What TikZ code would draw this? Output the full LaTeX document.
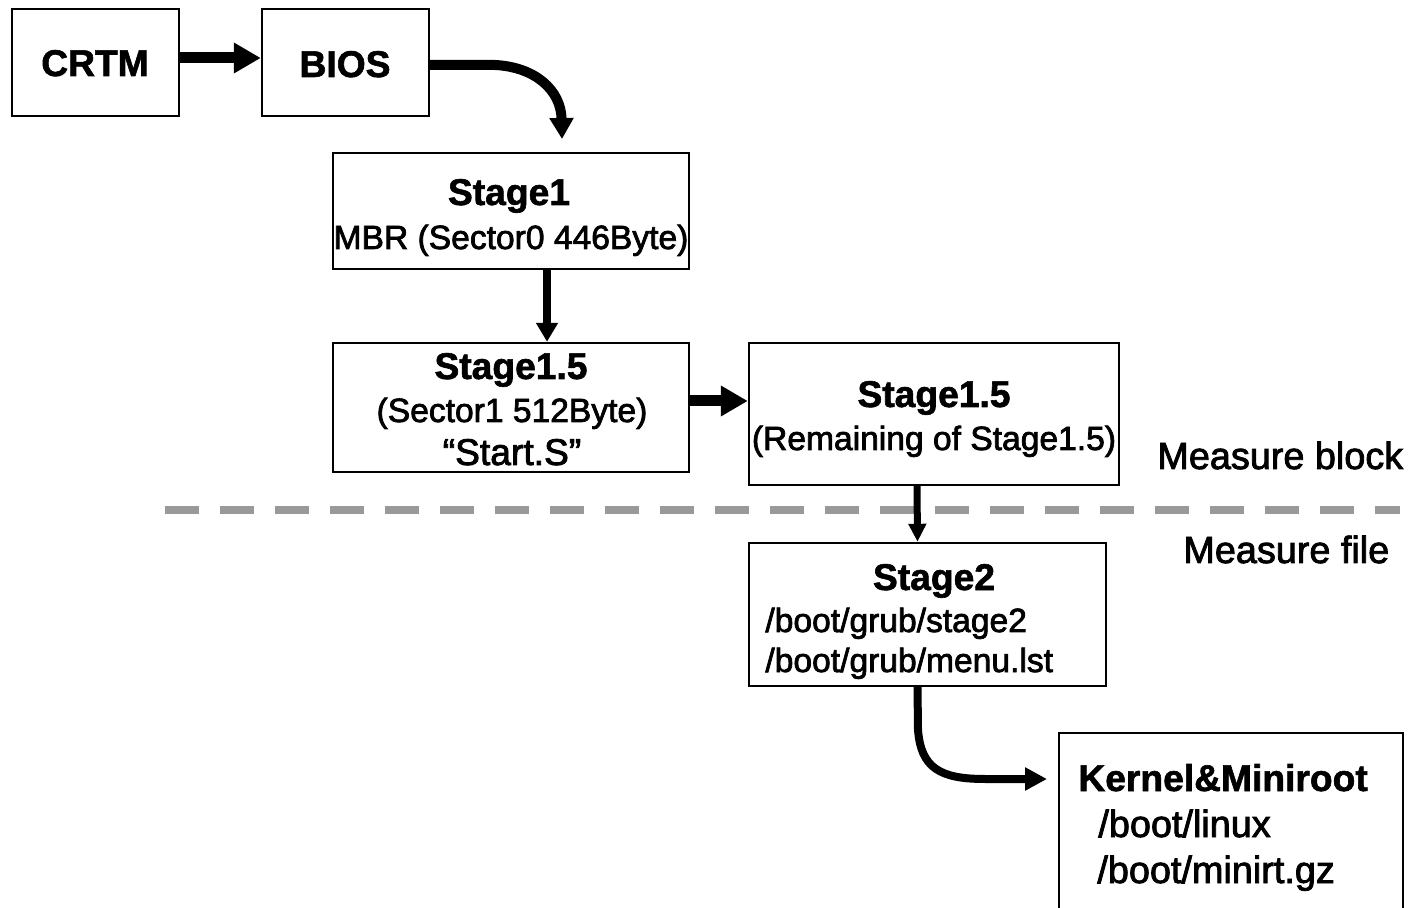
\documentclass[tikz,border=0pt]{standalone}
\usepackage{fontspec}
\setmainfont{Liberation Sans}
\newfontfamily\plainfont{Liberation Sans}[FakeBold=2.2]
\newfontfamily\headfont{Liberation Sans}[BoldFeatures={FakeBold=1.6}]
\usetikzlibrary{arrows.meta,fit,calc}
\definecolor{divgray}{HTML}{999999}
\begin{document}
\begin{tikzpicture}[x=0.5pt,y=-0.5pt,
  box/.style={draw=black, line width=1.2pt, rectangle, inner sep=0pt, fit={#1}},
  title/.style={font=\headfont\bfseries\fontsize{18.6}{22}\selectfont, inner sep=0pt, anchor=base},
  sub/.style={font=\plainfont\fontsize{16.8}{20}\selectfont, inner sep=0pt, anchor=base},
  bigsub/.style={font=\plainfont\fontsize{18.9}{22}\selectfont, inner sep=0pt, anchor=base west},
  fat/.style={line width=5.5pt, -{Triangle[length=13.5pt,width=14.5pt]}},
  curveA/.style={line width=5pt, -{Triangle[length=10.5pt,width=11.5pt]}},
  down/.style={line width=4pt, -{Triangle[length=9.5pt,width=10.5pt]}},
  slim/.style={line width=3.5pt, -{Triangle[length=9pt,width=8.5pt]}},
  curveB/.style={line width=4pt, -{Triangle[length=11pt,width=11pt]}},
]
\useasboundingbox (0,0) rectangle (1408,908);
\clip (0,0) rectangle (1408,908);

% boxes
\node[box={(12,9) (179,116)}]      (crtm) {};
\node[box={(262,9) (429,116)}]     (bios) {};
\node[box={(333,153) (689,269)}]   (s1) {};
\node[box={(333,343) (689,472)}]   (s15a) {};
\node[box={(749,343) (1119,485)}]  (s15b) {};
\node[box={(749,543) (1106,686)}]  (s2) {};
\node[box={(1059,733) (1403,960)}] (kern) {};

% box texts
\node[title] (crtmT) at (95,76) {CRTM};
\node[title] (biosT) at (345,77) {BIOS};
\node[title] (s1T) at (509,205) {Stage1};
\node[sub]   (s1S) at (511,249) {MBR (Sector0 446Byte)};
\node[title] (s15aT) at (511,379) {Stage1.5};
\node[sub]   (s15aS) at (512,422) {(Sector1 512Byte)};
\node[sub,font=\plainfont\fontsize{18.6}{22}\selectfont] (s15aF) at (512,465) {“Start.S”};
\node[title] (s15bT) at (934,407) {Stage1.5};
\node[sub]   (s15bS) at (934,450) {(Remaining of Stage1.5)};
\node[title] (s2T) at (934,590) {Stage2};
\node[sub,anchor=base west] (s2A) at (765,632) {/boot/grub/stage2};
\node[sub,anchor=base west] (s2B) at (765,672) {/boot/grub/menu.lst};
\node[title,anchor=base west] (kernT) at (1078,791) {Kernel\&Miniroot};
\node[bigsub] (kernA) at (1098,837) {/boot/linux};
\node[bigsub] (kernB) at (1097,883) {/boot/minirt.gz};

% region labels
\node[bigsub] (mblock) at (1157,469) {Measure block};
\node[bigsub] (mfile) at (1183,563) {Measure file};

% divider between block and file measurement
\draw[divgray, line width=4pt, dash pattern=on 17pt off 10.5pt] (165,510) -- (1400,510);

% connectors
\coordinate (s1in) at (562,139);
\coordinate (kin) at (1047,779);
\draw[fat] (crtm.east |- 0,58) -- (bios.west |- 0,58);
\draw[curveA] (bios.east |- 0,65) -- (495,65) .. controls (535,67) and (561,90) .. (s1in);
\draw[down] ($(s1.south)+(36,0)$) -- ($(s15a.north)+(36,0)$);
\draw[fat] (s15a.east |- 0,401) -- (s15b.west |- 0,401);
\draw[slim] ($(s15b.south)+(-17,0)$) -- ($(s2.north)+(-10,0)$);
\draw[curveB] ($(s2.south)+(-10,0)$) -- (918,730) .. controls (921,768) and (940,779) .. (985,779) -- (kin);
\end{tikzpicture}
\end{document}
